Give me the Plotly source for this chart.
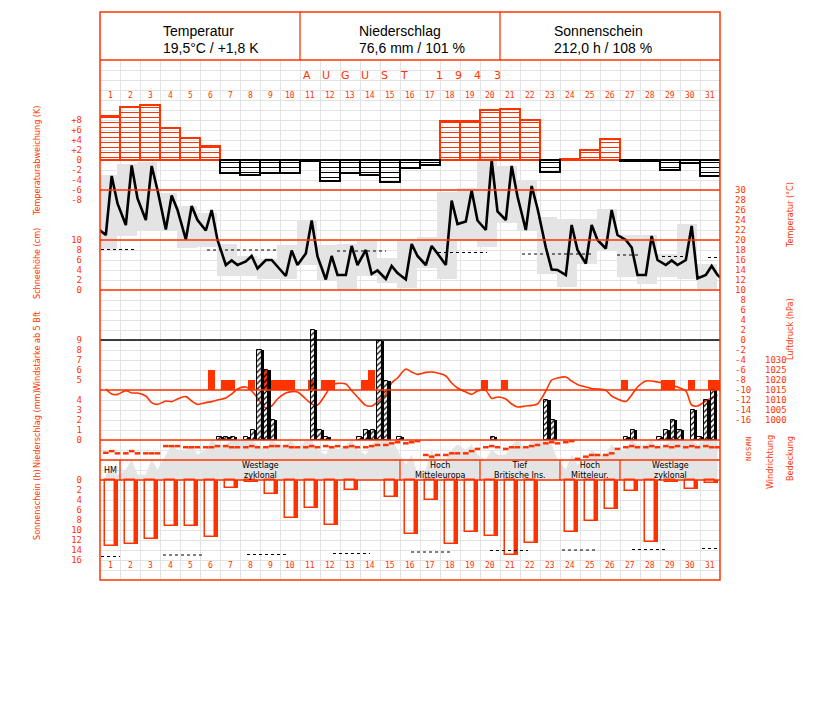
import plotly.graph_objects as go

RED = '#ff3300'
GRID = '#e3e3e3'
GRAY = '#e4e4e4'
TICKFONT = 'DejaVu Sans Mono'
NARROW = 'Liberation Sans Narrow, DejaVu Sans Condensed, Liberation Sans'

# ---------------- data ----------------
days = list(range(1, 32))
day_labels = [str(d) for d in days]
month_title = "AUGUST 1943"
head_titles = ["Temperatur", "Niederschlag", "Sonnenschein"]
head_values = ["19,5°C / +1,8 K", "76,6 mm / 101 %", "212,0 h / 108 %"]

temp_dev = [8.8, 10.7, 11.1, 6.5, 4.5, 2.8, -2.5, -3.0, -2.5, -2.5, -0.2, -4.1, -2.5, -3.0, -4.3, -1.6,
            -1.0, 7.8, 7.8, 10.0, 10.2, 8.0, -2.3, 0.3, 2.0, 4.2, -0.2, -0.2, -1.9, -0.5, -3.2]

temp_07 = [21.0, 23.0, 24.0, 22.1, 20.1, 21.9, 15.0, 15.7, 16.0, 12.8, 17.3, 12.1, 13.0, 18.0, 12.2, 12.1,
           15.0, 15.0, 23.7, 22.0, 24.0, 22.0, 18.5, 13.0, 15.3, 18.3, 20.0, 13.0, 15.0, 16.0, 13.0]
temp_14 = [32.8, 34.9, 34.8, 28.9, 26.8, 26.0, 15.9, 16.8, 16.0, 17.9, 23.9, 16.8, 18.8, 13.2, 14.8, 19.2,
           18.8, 27.9, 29.9, 35.9, 34.8, 30.8, 14.1, 23.0, 23.0, 26.0, 18.5, 20.8, 15.9, 22.8, 14.8]
temp_21 = [27.3, 28.3, 30.0, 26.0, 24.0, 20.0, 15.0, 14.3, 14.6, 15.0, 16.7, 13.0, 15.0, 13.9, 13.4, 16.8,
           17.3, 23.2, 23.9, 25.7, 28.7, 26.3, 14.0, 18.0, 20.0, 21.0, 13.0, 16.0, 15.0, 12.3, 13.0]
temp_prev_21 = 22.3
temp_next_07 = 11.5
temp_max = [33.0, 35.2, 35.7, 29.5, 26.8, 25.5, 19.2, 16.9, 16.2, 19.0, 24.0, 19.0, 19.3, 20.1, 16.5, 20.1,
            20.7, 29.7, 30.5, 36.8, 34.8, 32.0, 24.7, 24.3, 24.3, 26.3, 21.0, 21.0, 17.3, 23.3, 15.3]
temp_min = [18.2, 20.9, 22.0, 21.9, 18.5, 18.7, 12.8, 12.8, 12.3, 12.3, 15.0, 12.0, 10.0, 12.8, 11.5, 10.5,
            14.5, 12.3, 20.0, 18.7, 23.5, 22.0, 13.3, 10.7, 15.3, 18.1, 12.7, 11.3, 12.7, 12.3, 10.3]
temp_norm_from = [0.55, 5.85, 12.35, 17.4, 21.6, 26.35, 28.6, 30.9]
temp_norm_to = [2.3, 9.3, 14.8, 19.85, 25.1, 27.4, 29.75, 31.5]
temp_norm_val = [18.1, 18.0, 17.8, 17.5, 17.2, 17.0, 16.7, 16.5]

pres_07 = [1015.5, 1014.7, 1012.0, 1009.5, 1011.7, 1008.7, 1011.0, 1016.5, 1006.0, 1013.5, 1010.5, 1013.0,
           1018.0, 1007.3, 1013.0, 1025.5, 1023.8, 1022.0, 1014.0, 1014.7, 1010.5, 1007.0, 1014.5, 1021.5,
           1016.5, 1014.8, 1009.3, 1019.5, 1018.3, 1014.5, 1009.5]
pres_14 = [1013.0, 1013.5, 1008.7, 1009.2, 1009.5, 1009.2, 1013.0, 1014.5, 1007.0, 1014.2, 1008.0, 1017.5,
           1014.7, 1007.0, 1018.5, 1024.0, 1024.0, 1018.5, 1012.8, 1010.8, 1008.0, 1007.3, 1020.0, 1019.5,
           1015.7, 1012.0, 1012.5, 1019.5, 1017.3, 1007.5, 1011.0]
pres_21 = [1012.8, 1013.5, 1007.8, 1010.5, 1007.8, 1010.0, 1015.5, 1011.0, 1010.5, 1014.0, 1007.5, 1018.3,
           1011.5, 1009.0, 1021.0, 1022.8, 1023.5, 1016.0, 1014.5, 1011.5, 1006.5, 1008.0, 1021.0, 1017.8,
           1015.5, 1010.5, 1016.5, 1019.0, 1016.5, 1007.0, 1012.5]

# wind force (Bft) per third of day, 0 = below 5 Bft
wind_a = [0, 0, 0, 0, 0, 0, 5, 0, 6, 5, 0, 5, 0, 5, 0, 0, 0, 0, 0, 5, 5, 0, 0, 0, 0, 0, 5, 0, 5, 0, 0]
wind_b = [0, 0, 0, 0, 0, 6, 5, 5, 5, 5, 5, 5, 0, 6, 0, 0, 0, 0, 0, 0, 0, 0, 0, 0, 0, 0, 0, 0, 5, 5, 5]
wind_c = [0, 0, 0, 0, 0, 0, 0, 0, 5, 0, 0, 0, 0, 0, 0, 0, 0, 0, 0, 0, 0, 0, 0, 0, 0, 0, 0, 0, 0, 0, 5]

# precipitation (mm) per third of day
prec_a = [0, 0, 0, 0, 0, 0, 0.3, 0.3, 7.0, 0, 0, 0.3, 0, 1.0, 5.9, 0, 0, 0, 0, 0, 0, 0, 4.0, 0, 0, 0, 0.3, 0, 1.0, 0, 4.0]
prec_b = [0, 0, 0, 0, 0, 0, 0.3, 1.0, 2.0, 0, 11.0, 0, 0, 1.0, 0, 0, 0, 0, 0, 0.3, 0, 0, 2.0, 0, 0, 0, 1.0, 0, 2.0, 3.0, 5.0]
prec_c = [0, 0, 0, 0, 0, 0.3, 0, 9.0, 0, 0, 1.0, 0, 0.3, 9.9, 0.3, 0, 0, 0, 0, 0, 0, 0, 0, 0, 0, 0, 0, 0.3, 1.0, 0.3, 0]

# wind direction (degrees) at 7, 14, 21 h
wdir_07 = [130, 120, 120, 250, 230, 230, 250, 230, 230, 250, 230, 250, 230, 230, 270, 300, 90, 90, 120, 230, 200, 230, 300, 320, 60, 90, 230, 230, 250, 230, 250]
wdir_14 = [160, 160, 120, 250, 230, 230, 230, 250, 250, 230, 250, 230, 250, 250, 300, 320, 60, 120, 160, 250, 230, 250, 320, 340, 90, 120, 250, 250, 230, 250, 230]
wdir_21 = [120, 120, 120, 250, 230, 250, 230, 230, 250, 230, 230, 250, 230, 270, 320, 340, 90, 120, 200, 230, 230, 270, 300, 20, 90, 200, 230, 230, 250, 230, 230]

# cloud cover (octas) at 7, 14, 21 h
cloud_07 = [1, 2, 1, 5, 6, 6, 7, 8, 6, 7, 8, 5, 7, 5, 8, 3, 2, 4, 6, 4, 5, 6, 8, 2, 4, 5, 6, 7, 7, 8, 8]
cloud_14 = [2, 4, 4, 7, 7, 8, 8, 8, 8, 8, 8, 7, 8, 7, 8, 5, 6, 6, 7, 6, 7, 8, 7, 5, 6, 7, 8, 8, 8, 8, 8]
cloud_21 = [1, 1, 2, 6, 5, 7, 8, 7, 7, 6, 6, 6, 6, 8, 6, 1, 3, 7, 5, 5, 8, 8, 4, 3, 5, 6, 7, 6, 8, 7, 8]

sunshine = [13.2, 12.7, 11.7, 9.2, 9.2, 11.3, 1.5, 0.3, 2.8, 7.6, 5.6, 9.0, 2.0, 0.0, 3.4, 10.7,
            3.9, 12.8, 10.3, 11.2, 15.0, 12.5, 0.0, 10.3, 8.1, 5.7, 2.1, 12.3, 0.4, 1.7, 0.5]
sun_pos_from = [0.55, 3.65, 7.85, 12.15, 16.05, 20.0, 23.6, 27.1, 30.6]
sun_pos_to = [1.5, 5.65, 9.85, 14.0, 18.0, 21.9, 25.4, 28.9, 31.5]
sun_pos_val = [15.3, 15.0, 14.9, 14.7, 14.4, 14.1, 14.0, 13.9, 13.7]

wt_labels = ["HM", "Westlage<br>zyklonal", "Hoch<br>Mitteleuropa", "Tief<br>Britische Ins.",
             "Hoch<br>Mitteleur.", "Westlage<br>zyklonal"]
wt_first = [1, 2, 16, 20, 24, 27]
wt_last = [1, 15, 19, 23, 26, 31]

dev_ticks = [-8, -6, -4, -2, 0, 2, 4, 6, 8]
temp_ticks = list(range(-16, 31, 2))
snow_ticks = [0, 2, 4, 6, 8, 10]
wind_ticks = [5, 6, 7, 8, 9]
prec_ticks = [0, 1, 2, 3, 4]
pres_ticks = [1000, 1005, 1010, 1015, 1020, 1025, 1030]
sun_ticks = list(range(0, 17, 2))
dir_ticks = [0, 90, 180, 270, 360]
dir_text = ["N", "O", "S", "W", "N"]

# ---------------- geometry helpers (pixels of the page; the page body adds an 8 px offset) ----------------
OFF = 8
PL, PR, PT, PB = 100, 720, 60, 580
FIG_W, FIG_H = 827 - OFF, 702 - OFF


def py(ypix):
    return (PB - ypix) / (PB - PT)


def px(xpix):
    return (xpix - PL) / (PR - PL)


def axrange(v1, p1, v2, p2):
    k = (v2 - v1) / (p2 - p1)
    return [v1 + (PB - p1) * k, v1 + (PT - p1) * k]


HOURS = (7, 14, 21)


def three(a, b, c):
    xs, ys = [], []
    for i, d in enumerate(days):
        for h, arr in zip(HOURS, (a, b, c)):
            xs.append(d - 0.5 + h / 24)
            ys.append(arr[i])
    return xs, ys


def thirds(a, b, c, shift):
    xs, ys = [], []
    for i, d in enumerate(days):
        for k, arr in enumerate((a, b, c)):
            if arr[i]:
                xs.append(d - 0.5 + shift + k / 3)
                ys.append(arr[i])
    return xs, ys


fig = go.Figure()

# cloud cover (base axis y)
cx, cy = three(cloud_07, cloud_14, cloud_21)
fig.add_trace(go.Scatter(x=cx, y=cy, mode='lines', fill='tozeroy', fillcolor=GRAY,
                         line=dict(color=GRAY, width=0.5), yaxis='y', hoverinfo='skip'))

# temperature max/min boxes, curve, normal
fig.add_trace(go.Bar(x=[d - 0.135 for d in days], y=[mx - mn for mx, mn in zip(temp_max, temp_min)],
                     base=temp_min, width=1, marker=dict(color=GRAY, line=dict(width=0)), yaxis='y2'))
nx, ny = [], []
for f, t, v in zip(temp_norm_from, temp_norm_to, temp_norm_val):
    nx += [f, t, None]
    ny += [v, v, None]
fig.add_trace(go.Scatter(x=nx, y=ny, mode='lines', line=dict(color='black', width=1, dash='dot'), yaxis='y2'))
tx, ty = three(temp_07, temp_14, temp_21)
tx = [days[0] - 1.5 + 21 / 24] + tx + [days[-1] + 0.5 + 7 / 24]
ty = [temp_prev_21] + ty + [temp_next_07]
fig.add_trace(go.Scatter(x=tx, y=ty, mode='lines', line=dict(color='black', width=2.6), yaxis='y2'))

# temperature deviation
pos = [v if v > 0 else None for v in temp_dev]
neg = [v if v <= 0 else None for v in temp_dev]
fig.add_trace(go.Bar(x=days, y=pos, width=1, yaxis='y3',
                     marker=dict(color=RED, line=dict(color=RED, width=2),
                                 pattern=dict(shape='-', size=5, solidity=0.2, fillmode='replace'))))
fig.add_trace(go.Bar(x=days, y=neg, width=1, yaxis='y3',
                     marker=dict(color='black', line=dict(color='black', width=2),
                                 pattern=dict(shape='-', size=5, solidity=0.2, fillmode='replace'))))

# wind force bars
wx, wy = thirds(wind_a, wind_b, wind_c, 0.07 + 1 / 6)
fig.add_trace(go.Bar(x=wx, y=[v - 4 for v in wy], base=4, width=1 / 3, yaxis='y4',
                     marker=dict(color=RED, line=dict(width=0))))

# pressure
prx, pry = three(pres_07, pres_14, pres_21)
fig.add_trace(go.Scatter(x=prx, y=pry, mode='lines', line=dict(color=RED, width=1.6, shape='spline', smoothing=0.8),
                         yaxis='y5'))

# precipitation: hatched bars with a black shadow on the right
SH = 0.115
BW = 1 / 3 - SH
rx, ry = thirds(prec_a, prec_b, prec_c, 0.2)
fig.add_trace(go.Bar(x=[x + BW + SH / 2 for x in rx], y=ry, width=SH, yaxis='y6',
                     marker=dict(color='black', line=dict(width=0))))
fig.add_trace(go.Bar(x=[x + BW / 2 for x in rx], y=ry, width=BW, yaxis='y6',
                     marker=dict(color='black', line=dict(color='black', width=1),
                                 pattern=dict(shape='/', size=4, solidity=0.3, fillmode='replace'))))

# wind direction
dx, dy = three(wdir_07, wdir_14, wdir_21)
fig.add_trace(go.Scatter(x=dx, y=dy, mode='markers', yaxis='y7',
                         marker=dict(symbol='line-ew', size=4, line=dict(color=RED, width=2.5))))

# sunshine
sx = [d for d, v in zip(days, sunshine) if v > 0]
sv = [v for v in sunshine if v > 0]
fig.add_trace(go.Bar(x=[d + 0.25 + 0.065 for d in sx], y=sv, width=0.13, yaxis='y8',
                     marker=dict(color=RED, line=dict(width=0))))
fig.add_trace(go.Bar(x=sx, y=sv, width=0.5, yaxis='y8',
                     marker=dict(color='rgba(0,0,0,0)', line=dict(color=RED, width=1.5))))
spx, spy = [], []
for f, t, v in zip(sun_pos_from, sun_pos_to, sun_pos_val):
    spx += [f, t, None]
    spy += [v, v, None]
fig.add_trace(go.Scatter(x=spx, y=spy, mode='lines', line=dict(color='black', width=1, dash='dot'), yaxis='y8'))

# snow axis (no data in August)
fig.add_trace(go.Scatter(x=[None], y=[None], yaxis='y9', mode='lines'))

# ---------------- axes ----------------
tickfont = dict(family=TICKFONT, size=9, color=RED)


def left_axis(rng, vals, text, standoff=17):
    return dict(overlaying='y', anchor='x', side='left', range=rng, tickvals=vals, ticktext=text,
                showgrid=False, zeroline=False, showline=False, ticks='', tickfont=tickfont,
                ticklabelstandoff=standoff, automargin=False, fixedrange=True)


def right_axis(rng, vals, text, standoff):
    d = left_axis(rng, vals, text, standoff)
    d['side'] = 'right'
    return d


temp_text = [("\u2007" + str(v)) if 0 <= v < 10 else str(v) for v in temp_ticks]
dev_text = [("+" + str(v)) if v > 0 else str(v) for v in dev_ticks]

layout_axes = dict(
    xaxis=dict(range=[0.5, 31.5], tick0=0.5, dtick=1, showgrid=True, gridcolor=GRID, gridwidth=1,
               showticklabels=False, zeroline=False, showline=False, ticks='', automargin=False, fixedrange=True),
    yaxis=dict(range=axrange(0, 480, 8, 440), tick0=0, dtick=2, showgrid=True, gridcolor=GRID, gridwidth=1,
               showticklabels=False, zeroline=False, showline=False, ticks='', automargin=False, fixedrange=True),
    yaxis2=right_axis(axrange(0, 340, 30, 190), temp_ticks, temp_text, 14),
    yaxis3=left_axis(axrange(0, 160, 8, 120), dev_ticks, dev_text),
    yaxis4=left_axis(axrange(5, 380, 9, 340), wind_ticks, [str(v) for v in wind_ticks]),
    yaxis5=right_axis(axrange(1000, 420, 1030, 360), pres_ticks, [str(v) for v in pres_ticks], 44),
    yaxis6=left_axis(axrange(0, 440, 4, 400), prec_ticks, [str(v) for v in prec_ticks]),
    yaxis7=right_axis(axrange(0, 460, 360, 440), dir_ticks, dir_text, 24),
    yaxis8=left_axis(axrange(0, 480, 16, 560), sun_ticks, [str(v) for v in sun_ticks]),
    yaxis9=left_axis(axrange(0, 290, 10, 240), snow_ticks, [str(v) for v in snow_ticks]),
)
layout_axes['yaxis7']['tickfont'] = dict(family=TICKFONT, size=7, color=RED)
layout_axes['yaxis7']['tickangle'] = 90

# ---------------- shapes ----------------
shapes = []
for ypix, col in [(190, RED), (240, RED), (290, RED), (390, RED), (440, RED), (460, RED), (480, RED),
                  (340, 'black')]:
    shapes.append(dict(type='line', xref='paper', yref='paper', x0=0, x1=1, y0=py(ypix), y1=py(ypix),
                       line=dict(color=col, width=1.3), layer='above'))
for f in wt_first[1:]:
    shapes.append(dict(type='line', xref='x', yref='paper', x0=f - 0.5, x1=f - 0.5, y0=py(480), y1=py(460),
                       line=dict(color=RED, width=1.3), layer='above'))
# frame and header
shapes.append(dict(type='rect', xref='paper', yref='paper', x0=0, x1=1, y0=0, y1=py(12),
                   line=dict(color=RED, width=1.5), layer='above'))
shapes.append(dict(type='line', xref='paper', yref='paper', x0=0, x1=1, y0=1, y1=1,
                   line=dict(color=RED, width=1.5), layer='above'))
for xp in (300, 500):
    shapes.append(dict(type='line', xref='paper', yref='paper', x0=px(xp), x1=px(xp), y0=1, y1=py(12),
                       line=dict(color=RED, width=1.3), layer='above'))

# ---------------- annotations ----------------
ann = []


def note(text, x, y, xref='paper', font=None, xanchor='center', angle=0):
    ann.append(dict(text=text, x=x, y=y, xref=xref, yref='paper', xanchor=xanchor, yanchor='middle',
                    showarrow=False, textangle=angle, font=font))


HEAD_FONT = dict(family='Liberation Sans, Arial', size=14, color='black')
for i, (t, v) in enumerate(zip(head_titles, head_values)):
    xl = px([161, 357, 552][i])
    note(t, xl, py(31), font=HEAD_FONT, xanchor='left')
    note(v, xl, py(48), font=HEAD_FONT, xanchor='left')

# spaced month title
xpos = []
cur = 306.5
for c in month_title:
    if c == ' ':
        cur += 15.5
        continue
    xpos.append(cur)
    cur += 19.5
for c, xp in zip([c for c in month_title if c != ' '], xpos):
    note(c, px(xp), py(75), font=dict(family='DejaVu Sans', size=11, color=RED))

for d, lab in zip(days, day_labels):
    for yy in (96, 565):
        note(lab, d, py(yy), xref='x', font=dict(family=TICKFONT, size=8, color=RED))

for lab, f, l in zip(wt_labels, wt_first, wt_last):
    note(lab, (f + l) / 2, py(470), xref='x', font=dict(family='DejaVu Sans', size=8, color='black'))

left_titles = [("Temperaturabweichung (K)", 161), ("Schneehöhe (cm)", 264), ("Windstärke ab 5 Bft", 351),
               ("Niederschlag (mm)", 429), ("Sonnenschein (h)", 505)]
for t, yy in left_titles:
    note(t, px(37), py(yy), font=dict(family=NARROW, size=9, color=RED), angle=-90)
right_titles = [("Temperatur (°C)", 790, 215), ("Luftdruck (hPa)", 790, 329), ("Windrichtung", 770, 462),
                ("Bedeckung", 790, 458)]
for t, xx, yy in right_titles:
    note(t, px(xx), py(yy), font=dict(family=NARROW, size=9, color=RED), angle=-90)

fig.update_layout(
    width=FIG_W, height=FIG_H,
    margin=dict(l=PL - OFF, r=FIG_W - (PR - OFF), t=PT - OFF, b=FIG_H - (PB - OFF), pad=0),
    paper_bgcolor='white', plot_bgcolor='white',
    showlegend=False, barmode='overlay', bargap=0,
    shapes=shapes, annotations=ann,
    **layout_axes,
)

fig.write_html("out.html")
